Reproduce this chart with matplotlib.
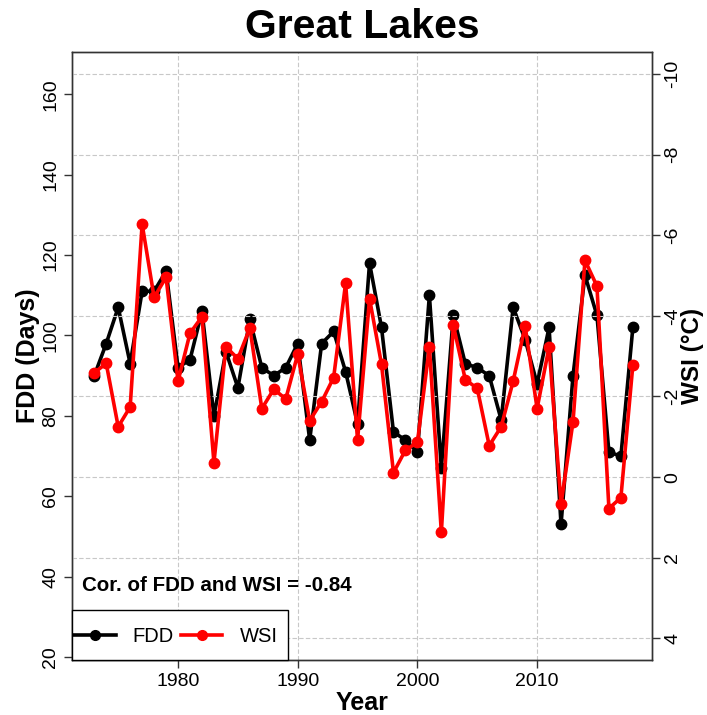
import matplotlib
matplotlib.use("Agg")
import matplotlib.pyplot as plt
from matplotlib.lines import Line2D
from matplotlib.patches import Rectangle

plt.rcParams['font.family'] = ['Liberation Sans', 'DejaVu Sans']

years = list(range(1973, 2019))
fdd = [90, 98, 107, 93, 111, 111, 116, 92, 94, 106, 80, 96, 87, 104, 92, 90, 92, 98,
       74, 98, 101, 91, 78, 118, 102, 76, 74, 71, 110, 67, 105, 93, 92, 90, 79, 107,
       99, 88, 102, 53, 90, 115, 105, 71, 70, 102]
wsi = [-2.59, -2.82, -1.25, -1.74, -6.28, -4.46, -4.96, -2.38, -3.57, -3.98, -0.36, -3.23,
       -2.94, -3.70, -1.70, -2.18, -1.94, -3.05, -1.40, -1.87, -2.47, -4.81, -0.92, -4.43,
       -2.80, -0.11, -0.67, -0.86, -3.23, 1.37, -3.77, -2.42, -2.20, -0.78, -1.25, -2.38,
       -3.75, -1.70, -3.23, 0.67, -1.37, -5.38, -4.74, 0.78, 0.51, -2.78]
title = "Great Lakes"
left_ticks = [20, 40, 60, 80, 100, 120, 140, 160]
right_ticks = [4, 2, 0, -2, -4, -6, -8, -10]
x_ticks = [1980, 1990, 2000, 2010]
cor_text = "Cor. of FDD and WSI = -0.84"
series_names = ["FDD", "WSI"]

fig = plt.figure(figsize=(7.07, 7.15), dpi=100)
ax = fig.add_axes([72/707, 1-660/715, (652-72)/707, (660-52)/715])
ax2 = ax.twinx()

ax.set_xlim(1971.14, 2019.6)
ax.set_ylim(19.3, 170.5)
ax2.set_ylim(4.54, -10.55)

# grid (aligned with right axis ticks)
for t in right_ticks:
    ax2.axhline(t, color='#c8c8c8', lw=0.8, ls=(0, (4, 2)), zorder=0)
for t in x_ticks:
    ax.axvline(t, color='#c8c8c8', lw=0.8, ls=(0, (4, 2)), zorder=0)

ax.plot(years, fdd, color='black', lw=2.6, marker='o', ms=7.5, zorder=3)
ax2.plot(years, wsi, color='#ff0000', lw=2.6, marker='o', ms=7.5, zorder=4)

ax.set_xticks(x_ticks)
ax.set_xticklabels([str(t) for t in x_ticks], fontsize=14)
ax.set_yticks(left_ticks)
ax.set_yticklabels([str(t) for t in left_ticks], fontsize=14, rotation=90, va='center')
ax2.set_yticks(right_ticks)
ax2.set_yticklabels([str(t) for t in right_ticks], fontsize=14, rotation=90, va='center')

for a in (ax, ax2):
    a.tick_params(direction='out', length=6, width=1, color='#333333', pad=3)
    for s in a.spines.values():
        s.set_color('#333333')
        s.set_linewidth(1.0)

ax.set_xlabel("Year", fontsize=18, fontweight='bold', labelpad=1)
ax.set_ylabel("FDD (Days)", fontsize=18, fontweight='bold', labelpad=2)
ax2.set_ylabel("WSI (°C)", fontsize=17.5, fontweight='bold', rotation=90, labelpad=0)
ax.set_title(title, fontsize=29.5, fontweight='bold', pad=10)

ax2.text(0.017, 0.122, cor_text, transform=ax.transAxes, fontsize=14.8,
         fontweight='bold', va='center', ha='left', zorder=6)

# legend box (flush with lower-left corner of the axes)
box_w = (288 - 72) / 580
box_h = (660 - 610) / 608
ax2.add_patch(Rectangle((0, 0), box_w, box_h, transform=ax.transAxes,
                        facecolor='white', edgecolor='black', lw=1.0, zorder=9,
                        clip_on=False))
handles = [Line2D([], [], color='black', lw=2.6, marker='o', ms=7),
           Line2D([], [], color='#ff0000', lw=2.6, marker='o', ms=7)]
leg = ax2.legend(handles, series_names, loc='center left',
                 bbox_to_anchor=(0.004, box_h / 2 - 0.002),
                 borderaxespad=0, borderpad=0, ncol=2, frameon=False,
                 fontsize=14.5, handlelength=2.05, columnspacing=0.35,
                 handletextpad=0.85)
leg.set_zorder(10)

fig.savefig("out.png", dpi=100)
